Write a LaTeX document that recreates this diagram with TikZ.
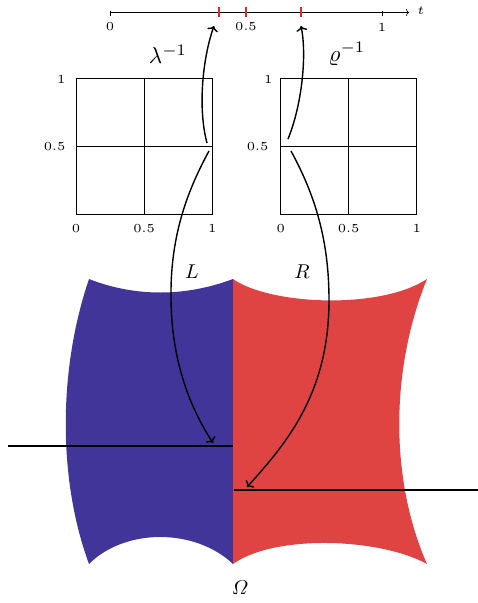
\documentclass[tikz,border=0pt]{standalone}
\usepackage{amsmath}
\usetikzlibrary{arrows.meta}
\definecolor{myblue}{RGB}{65,53,154}
\definecolor{myred}{RGB}{224,68,66}
\definecolor{tickred}{RGB}{220,40,40}
\begin{document}
\begin{tikzpicture}[x=1pt,y=-1pt,
  ticklab/.style={inner sep=0pt, scale=2.45, font=\tiny},
  biglab/.style={inner sep=0pt, scale=2},
  invlab/.style={inner sep=0pt, scale=2.3},
  gridline/.style={line width=0.7pt},
  conn/.style={line width=1.4pt, -{To[length=5pt,width=11pt]}},
  hline/.style={line width=1.3pt},
  redtick/.style={tickred, line width=1.2pt}]
\useasboundingbox (0,0) rectangle (478,603);

% regions
\fill[myblue] (233,279) .. controls (185,297) and (135,297) .. (89,279)
  .. controls (58,370) and (58,480) .. (89,564)
  .. controls (125,528) and (195,528) .. (233,564) -- cycle;
\fill[myred] (233,279) .. controls (270,305) and (380,310) .. (427,279)
  .. controls (390,370) and (390,480) .. (427,564)
  .. controls (380,538) and (275,534) .. (233,564) -- cycle;

% time axis
\coordinate (t0) at (110,12.5);
\coordinate (tend) at (409,12.5);
\draw[line width=0.6pt, -{To[length=3pt,width=7pt]}] (t0) -- (tend);
\node[ticklab, anchor=west] (tl) at (417,11) {$t$};
\draw[line width=0.6pt] (110,10.5) -- (110,15.5) (382,10.5) -- (382,15.5);
\node[ticklab] (a0) at (110,27) {0};
\node[ticklab] (a05) at (246,27) {0.5};
\node[ticklab] (a1) at (382,27) {1};
\coordinate (tickA) at (219,12);
\coordinate (tickB) at (246,12);
\coordinate (tickC) at (301,12);
\draw[redtick] (219,7) -- (219,17) (246,7) -- (246,17) (301,7) -- (301,17);

% left square
\draw[gridline] (76,78.3) rectangle (212.3,214);
\draw[gridline] (144.2,78.3) -- (144.2,214) (76,146.2) -- (212.3,146.2);
\node[ticklab, anchor=east] (l1) at (66,79) {1};
\node[ticklab, anchor=east] (l05) at (66,147) {0.5};
\node[ticklab] (lb0) at (76,228.5) {0};
\node[ticklab] (lb05) at (144.2,228.5) {0.5};
\node[ticklab] (lb1) at (212.3,228.5) {1};
\node[invlab] (lam) at (168,54) {$\lambda^{-1}$};

% right square
\draw[gridline] (280.7,78.3) rectangle (416.7,214);
\draw[gridline] (348.7,78.3) -- (348.7,214) (280.7,146.2) -- (416.7,146.2);
\node[ticklab, anchor=east] (r1) at (273,79) {1};
\node[ticklab, anchor=east] (r05) at (269,147) {0.5};
\node[ticklab] (rb0) at (280.7,228.5) {0};
\node[ticklab] (rb05) at (348.7,228.5) {0.5};
\node[ticklab] (rb1) at (416.7,228.5) {1};
\node[invlab] (rho) at (347,54) {$\varrho^{-1}$};

% labels
\node[biglab] (Llab) at (192,272) {$L$};
\node[biglab] (Rlab) at (302,272) {$R$};
\node[biglab] (Om) at (240,588) {$\varOmega$};

% horizontal lines
\coordinate (hl0) at (8,446);
\coordinate (hl1) at (233,446);
\coordinate (hr0) at (234,490);
\coordinate (hr1) at (478,490);
\draw[hline] (hl0) -- (hl1);
\draw[hline] (hr0) -- (hr1);

% connectors
\coordinate (lu) at (207,143);
\coordinate (lutip) at (214,26);
\coordinate (ld) at (209,151);
\coordinate (ldtip) at (213,443);
\coordinate (ru) at (288,139);
\coordinate (rutip) at (301,26);
\coordinate (rd) at (291,151);
\coordinate (rdtip) at (247,487);
\draw[conn] (lu) .. controls (198,110) and (202,60) .. (lutip);
\draw[conn] (ld) .. controls (185,195) and (170,240) .. (171,300)
  .. controls (172,370) and (195,415) .. (ldtip);
\draw[conn] (ru) .. controls (302,105) and (307,55) .. (rutip);
\draw[conn] (rd) .. controls (315,195) and (329,240) .. (329,300)
  .. controls (329,390) and (290,440) .. (rdtip);
\end{tikzpicture}
\end{document}
